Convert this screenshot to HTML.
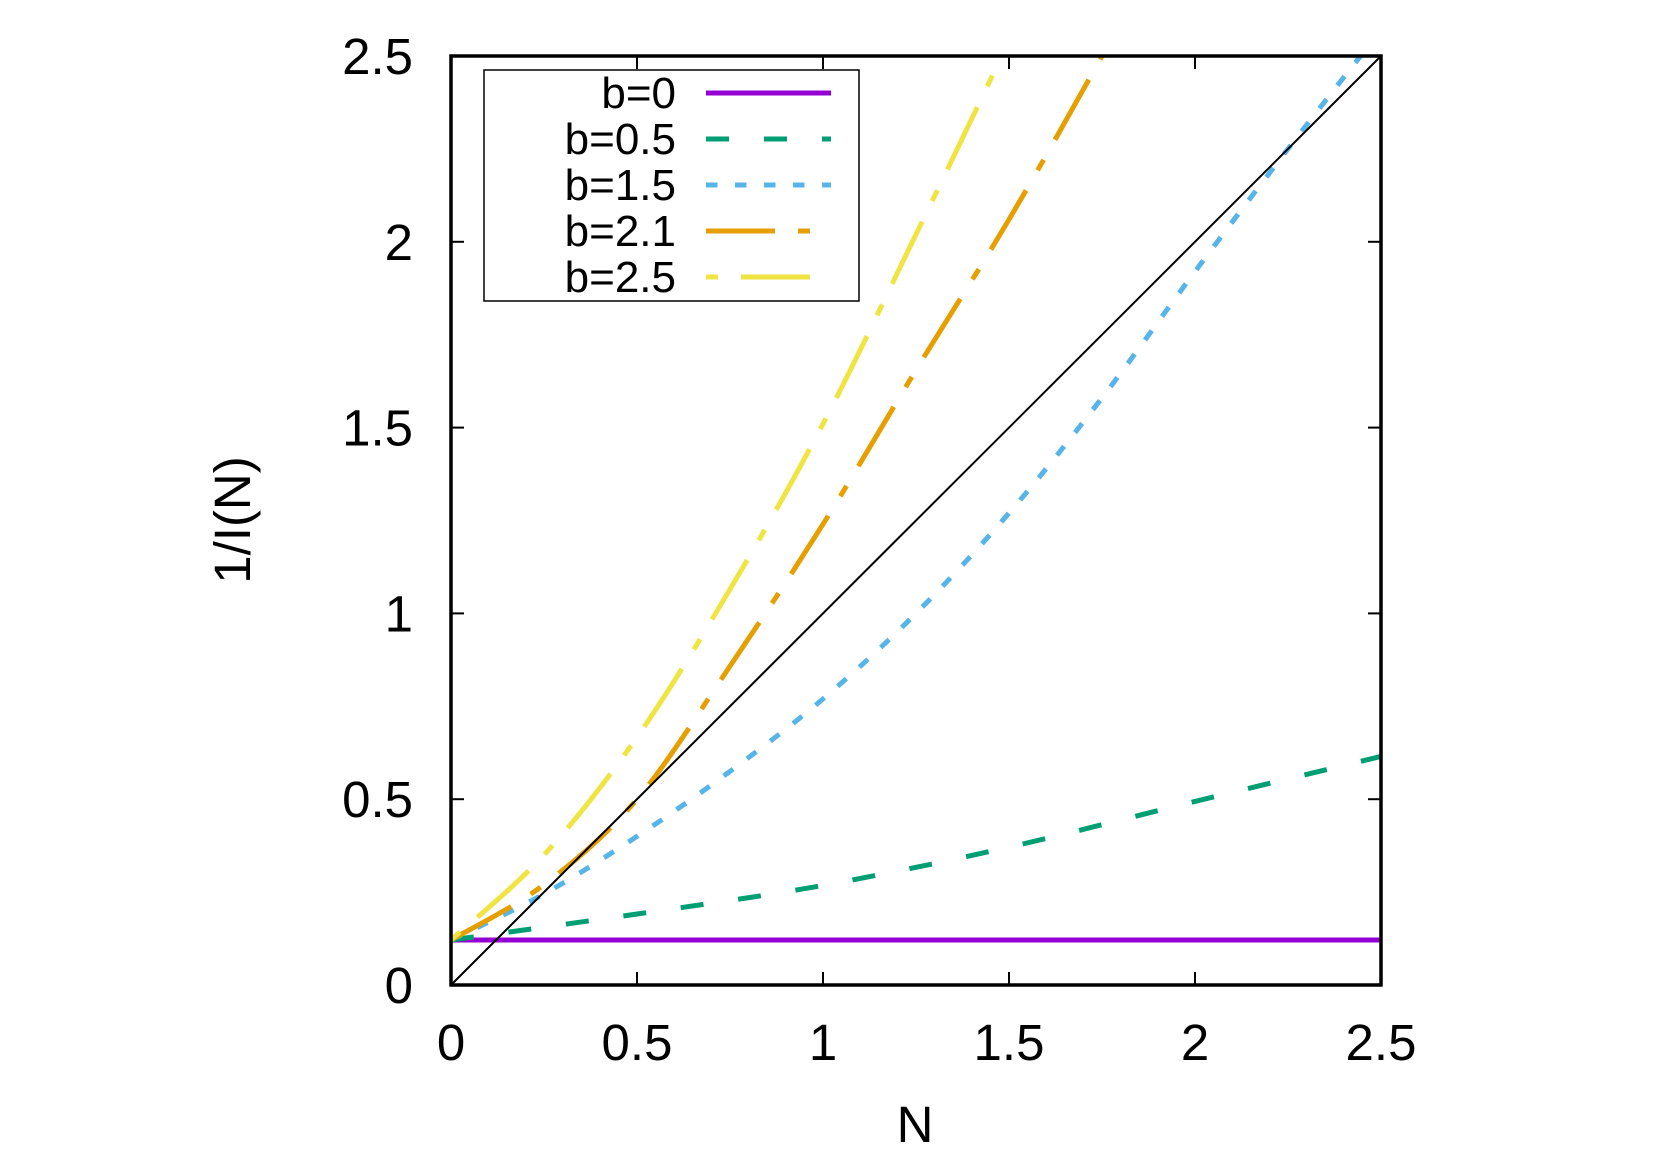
<!DOCTYPE html>
<html><head><meta charset="utf-8"><style>
html,body{margin:0;padding:0;background:#fff;}
svg{display:block;font-family:"Liberation Sans",sans-serif;}
</style></head><body>
<svg id="s" width="1661" height="1163" viewBox="0 0 1661 1163" xmlns="http://www.w3.org/2000/svg">
<defs><clipPath id="cp"><rect x="451" y="56" width="930" height="929"/></clipPath></defs>
<rect width="1661" height="1163" fill="#fff"/>
<g id="ticks" stroke="#000" stroke-width="2"></g>
<g id="curves" fill="none" stroke-width="5" clip-path="url(#cp)"></g>
<line x1="451" y1="985" x2="1381" y2="56" stroke="#000" stroke-width="2"/>
<rect x="484" y="70" width="375" height="231" fill="#fff" stroke="#000" stroke-width="1.5"/>
<g font-size="44" text-anchor="end">
<text x="676" y="108">b=0</text>
<text x="676" y="154">b=0.5</text>
<text x="676" y="200">b=1.5</text>
<text x="676" y="246">b=2.1</text>
<text x="676" y="292">b=2.5</text>
</g>
<g stroke-width="5">
<line x1="706" y1="93" x2="831" y2="93" stroke="#9400d3"/>
<line x1="706" y1="139" x2="831" y2="139" stroke="#009e73" stroke-dasharray="23 35"/>
<line x1="706" y1="185" x2="831" y2="185" stroke="#56b4e9" stroke-dasharray="11.5 17.5"/>
<line x1="706" y1="231" x2="810" y2="231" stroke="#e69f00" stroke-dasharray="69 23 12 23"/>
<line x1="706" y1="277" x2="810" y2="277" stroke="#f0e442" stroke-dasharray="12 23 69 23"/>
</g>
<rect x="451" y="56" width="930" height="929" fill="none" stroke="#000" stroke-width="3.5"/>
<g id="labels" font-size="51"></g>
<text x="915" y="1142" font-size="51" text-anchor="middle">N</text>
<text transform="translate(250,520) rotate(-90)" font-size="51" text-anchor="middle">1/I(N)</text>
</svg>
<script>
var X=function(n){return 451+n*372;},Y=function(v){return 985-v*371.6;};
var ns="http://www.w3.org/2000/svg";
var t=document.getElementById('ticks'),L=document.getElementById('labels');
function el(p,tag,a,txt){var e=document.createElementNS(ns,tag);for(var k in a)e.setAttribute(k,a[k]);if(txt)e.textContent=txt;p.appendChild(e);}
var labs=["0","0.5","1","1.5","2","2.5"];
for(var i=0;i<=5;i++){var v=i*0.5,x=X(v),y=Y(v);
el(t,'line',{x1:x,y1:985,x2:x,y2:972});el(t,'line',{x1:x,y1:56,x2:x,y2:69});
el(t,'line',{x1:451,y1:y,x2:464,y2:y});el(t,'line',{x1:1381,y1:y,x2:1368,y2:y});
el(L,'text',{x:413,y:y+18,'text-anchor':'end'},labs[i]);
el(L,'text',{x:x,y:1060,'text-anchor':'middle'},labs[i]);}
var a=0.121;
var data=[
["#9400d3","",[[0,a],[2.5,a]]],
["#009e73","23 35",[[0,a],[0.5,0.191],[1,0.268],[1.5,0.371],[2,0.494],[2.5,0.615]]],
["#56b4e9","11.5 17.5",[[0,a],[0.25,0.245],[0.5,0.40],[0.75,0.575],[1,0.77],[1.25,1.0],[1.5,1.27],[1.75,1.58],[2,1.92],[2.25,2.25],[2.5,2.57]]],
["#e69f00","69 23 12 23",[[0,a],[0.25,0.27],[0.5,0.50],[0.75,0.858],[1,1.24],[1.25,1.655],[1.5,2.06],[1.75,2.5],[1.8,2.6]]],
["#f0e442","12 23 69 23",[[0,a],[0.25,0.35],[0.5,0.667],[0.75,1.065],[1,1.51],[1.25,2.02],[1.48,2.5],[1.52,2.6]]]
];
var c=document.getElementById('curves');
data.forEach(function(d){var p=d[2].map(function(q){return [X(q[0]),Y(q[1])];});
var s="M"+p[0][0]+","+p[0][1];
for(var i=0;i<p.length-1;i++){var p0=p[i-1]||p[i],p1=p[i],p2=p[i+1],p3=p[i+2]||p2;
var c1=[p1[0]+(p2[0]-p0[0])/6,p1[1]+(p2[1]-p0[1])/6],c2=[p2[0]-(p3[0]-p1[0])/6,p2[1]-(p3[1]-p1[1])/6];
s+=" C"+c1+" "+c2+" "+p2;}
var at={d:s,stroke:d[0]};if(d[1])at['stroke-dasharray']=d[1];el(c,'path',at);});
</script>
</body></html>
